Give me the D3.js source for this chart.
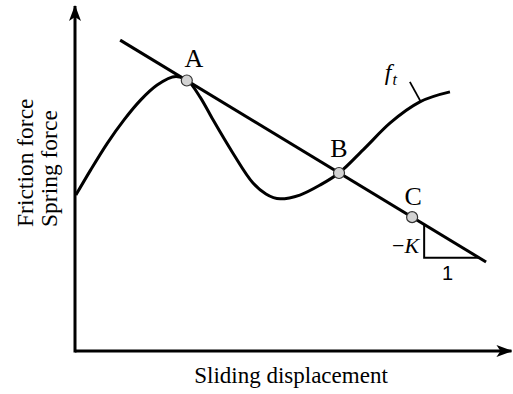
<!DOCTYPE html>
<html>
<head>
<meta charset="utf-8">
<script src="https://cdn.jsdelivr.net/npm/d3@7"></script>
<style>
  html, body { margin: 0; padding: 0; background: #fff; }
  svg { display: block; }
  text { font-family: "Liberation Serif", "Times New Roman", serif; fill: #000; }
</style>
</head>
<body>
<svg id="chart" width="513" height="394"></svg>
<script>
// Friction curve f_t sampled along the sliding displacement (arbitrary units)
const dispX     = [0.2, 3.65, 7.5, 11.4, 15.3, 19.1, 23.5, 26.0, 29.1, 32.1, 36.7, 41.4, 44.4, 47.7, 52.3, 57.0, 61.4, 67.0, 73.3, 80.2, 87.2];
const frictionY = [45.2, 52.5, 60.2, 67.0, 72.8, 77.1, 79.6, 78.6, 73.6, 67.0, 57.4, 48.7, 45.5, 44.1, 45.2, 48.1, 51.6, 58.3, 66.1, 72.2, 75.1];

// Spring force line with slope -K
const springX = [10.5, 95.6];
const springY = [90.1, 25.8];

// Equilibrium points on the spring line
const pointNames = ["A", "B", "C"];
const pointX = [26.0, 61.4, 78.4];
const pointY = [78.4, 51.6, 38.8];

// Slope triangle (-K over 1)
const triX = [81.2, 94.0];
const triY = [36.7, 27.0];

// Axis extents and titles
const axisMax = [101.5, 100];
const xTitle = "Sliding displacement";
const yTitles = ["Friction force", "Spring force"];

const svg = d3.select("#chart");
const x = d3.scaleLinear().domain([0, 100]).range([75, 505]);
const y = d3.scaleLinear().domain([0, 100]).range([351, 6]);

// Arrow marker for the axes
const defs = svg.append("defs");
defs.append("marker")
  .attr("id", "arrow")
  .attr("viewBox", "0 0 16 12")
  .attr("refX", 15).attr("refY", 6)
  .attr("markerWidth", 16).attr("markerHeight", 12)
  .attr("markerUnits", "userSpaceOnUse")
  .attr("orient", "auto")
  .append("path")
  .attr("d", "M0,0 L16,6 L0,12 L4,6 Z")
  .attr("fill", "#000");

// Axes
svg.append("line")
  .attr("x1", x(0)).attr("y1", y(0))
  .attr("x2", x(axisMax[0])).attr("y2", y(0))
  .attr("stroke", "#000").attr("stroke-width", 3)
  .attr("marker-end", "url(#arrow)");
svg.append("line")
  .attr("x1", x(0)).attr("y1", y(0) + 1.5)
  .attr("x2", x(0)).attr("y2", y(axisMax[1]))
  .attr("stroke", "#000").attr("stroke-width", 3)
  .attr("marker-end", "url(#arrow)");

// Spring force line
svg.append("line")
  .attr("x1", x(springX[0])).attr("y1", y(springY[0]))
  .attr("x2", x(springX[1])).attr("y2", y(springY[1]))
  .attr("stroke", "#000").attr("stroke-width", 3);

// Friction curve
const curve = d3.line()
  .x((d, i) => x(dispX[i]))
  .y(d => y(d))
  .curve(d3.curveMonotoneX);
svg.append("path")
  .attr("d", curve(frictionY))
  .attr("fill", "none")
  .attr("stroke", "#000")
  .attr("stroke-width", 3)
  .attr("stroke-linecap", "butt");

// Slope triangle
svg.append("path")
  .attr("d", `M${x(triX[0])},${y(triY[0])} L${x(triX[0])},${y(triY[1])} L${x(triX[1])},${y(triY[1])}`)
  .attr("fill", "none")
  .attr("stroke", "#000")
  .attr("stroke-width", 2);

svg.append("text")
  .attr("x", x(triX[0]) - 5).attr("y", y(triY[1]) - 5)
  .attr("text-anchor", "end")
  .attr("font-size", 22)
  .html('−<tspan font-style="italic">K</tspan>');

svg.append("text")
  .attr("x", (x(triX[0]) + x(triX[1])) / 2 - 4).attr("y", y(triY[1]) + 22)
  .attr("text-anchor", "middle")
  .attr("font-size", 20)
  .style("font-family", "'Liberation Sans', Arial, sans-serif")
  .text("1");

// Curve label with leader
const lx = dispX[19], ly = frictionY[19];
svg.append("line")
  .attr("x1", x(lx) + 1).attr("y1", y(ly))
  .attr("x2", x(lx) - 10).attr("y2", y(ly) - 20)
  .attr("stroke", "#000").attr("stroke-width", 1.8);
svg.append("text")
  .attr("x", x(lx) - 35).attr("y", y(ly) - 22)
  .attr("font-size", 24)
  .attr("font-style", "italic")
  .html('f<tspan font-size="16" dy="5" dx="1">t</tspan>');

// Equilibrium points
const labelOffset = [[7, -14], [0, -16], [1, -12]];
pointNames.forEach((name, i) => {
  svg.append("circle")
    .attr("cx", x(pointX[i])).attr("cy", y(pointY[i]))
    .attr("r", 5.5)
    .attr("fill", "#d3d3d3")
    .attr("stroke", "#333")
    .attr("stroke-width", 1.2);
  svg.append("text")
    .attr("x", x(pointX[i]) + labelOffset[i][0])
    .attr("y", y(pointY[i]) + labelOffset[i][1])
    .attr("text-anchor", "middle")
    .attr("font-size", 26)
    .text(name);
});

// Axis titles
svg.append("text")
  .attr("x", (x(0) + x(100)) / 2 + 1).attr("y", 383)
  .attr("text-anchor", "middle")
  .attr("font-size", 23)
  .text(xTitle);

yTitles.forEach((t, i) => {
  svg.append("text")
    .attr("transform", `translate(${33 + i * 24},227) rotate(-90)`)
    .attr("text-anchor", "start")
    .attr("font-size", 23.5)
    .text(t);
});
</script>
</body>
</html>
